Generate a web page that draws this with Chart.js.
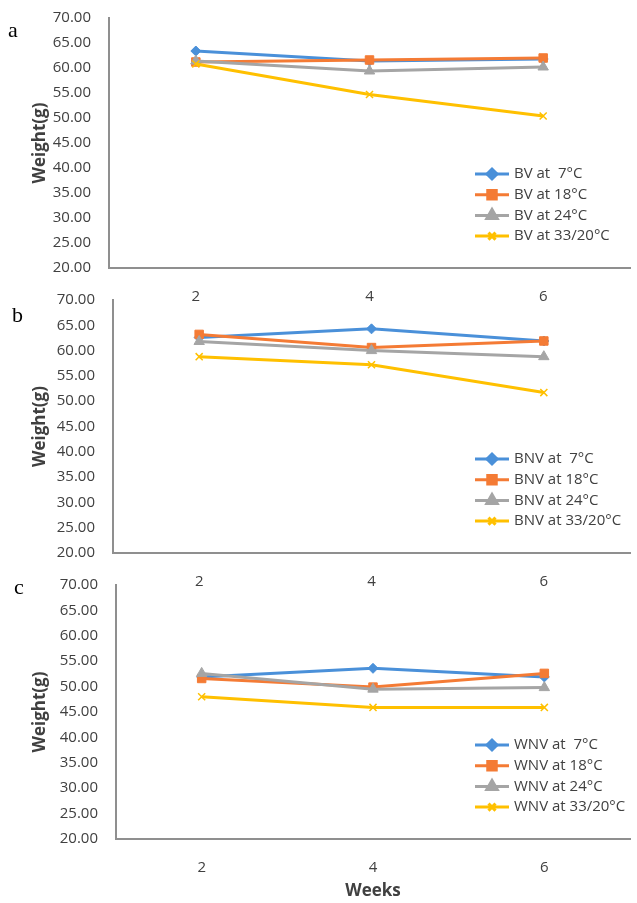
<!DOCTYPE html>
<html>
<head>
<meta charset="utf-8">
<script src="https://cdn.jsdelivr.net/npm/chart.js@4.4.0/dist/chart.umd.min.js"></script>
<style>
  body { margin: 0; background: #fff; }
  #wrap { position: relative; width: 637px; height: 903px; background: #fff; overflow: hidden; }
  canvas { position: absolute; left: 0; }
  .letter { position: absolute; font-family: "Liberation Serif", serif; font-size: 22px; color: #000; }
</style>
</head>
<body>
<div id="wrap">
  <canvas id="chartA" width="637" height="320" style="top:0px"></canvas>
  <canvas id="chartB" width="637" height="320" style="top:280px"></canvas>
  <canvas id="chartC" width="637" height="338" style="top:565px"></canvas>
  <div class="letter" style="left:8px;top:17px">a</div>
  <div class="letter" style="left:12px;top:302px">b</div>
  <div class="letter" style="left:14px;top:574px">c</div>
</div>
<script>
const weeks = ["2", "4", "6"];

// a: BV
const bvLabels = ["BV at  7°C", "BV at 18°C", "BV at 24°C", "BV at 33/20°C"];
const bv7 = [63.4, 61.4, 61.8];
const bv18 = [61.2, 61.6, 62.0];
const bv24 = [61.4, 59.4, 60.2];
const bv33 = [60.8, 54.7, 50.4];

// b: BNV
const bnvLabels = ["BNV at  7°C", "BNV at 18°C", "BNV at 24°C", "BNV at 33/20°C"];
const bnv7 = [62.6, 64.3, 61.9];
const bnv18 = [63.2, 60.6, 61.9];
const bnv24 = [61.8, 60.0, 58.8];
const bnv33 = [58.8, 57.2, 51.7];

// c: WNV
const wnvLabels = ["WNV at  7°C", "WNV at 18°C", "WNV at 24°C", "WNV at 33/20°C"];
const wnv7 = [51.9, 53.6, 51.9];
const wnv18 = [51.6, 49.9, 52.6];
const wnv24 = [52.6, 49.5, 49.8];
const wnv33 = [48.0, 45.9, 45.9];

const yTicks = { min: 20, max: 70, step: 5 };

const colors = ["#4A90D9", "#F47B35", "#A5A5A5", "#FFC000"];
const markers = ["rectRot", "rect", "triangle", "crossRot"];
const markerSize = [5, 6, 6, 5];

const FONT = "'Open Sans', sans-serif";
const TEXT = "#404040";
const AXIS = "#8f8f8f";

function makeDatasets(labels, series) {
  return series.map((data, i) => ({
    label: labels[i],
    data: data,
    borderColor: colors[i],
    backgroundColor: colors[i],
    borderWidth: 3,
    pointStyle: markers[i],
    pointRadius: markerSize[i],
    pointBorderWidth: i == 3 ? 1.5 : 1,
    pointBorderColor: colors[i],
    pointBackgroundColor: colors[i],
    tension: 0,
    fill: false,
    // excel draws later series on top
    order: 4 - i,
  }));
}

// legend drawn inside the plot, bottom right
const insideLegend = {
  id: "insideLegend",
  afterDatasetsDraw(chart) {
    const { ctx, chartArea } = chart;
    const datasets = chart.data.datasets;
    const x0 = chartArea.right - 155;
    const y0 = chartArea.bottom - 94;
    ctx.save();
    ctx.font = "15px " + FONT;
    ctx.textBaseline = "middle";
    ctx.fillStyle = TEXT;
    datasets.forEach((ds, i) => {
      const y = y0 + i * 20.7;
      ctx.strokeStyle = ds.borderColor;
      ctx.lineWidth = 3;
      ctx.beginPath();
      ctx.moveTo(x0, y);
      ctx.lineTo(x0 + 34, y);
      ctx.stroke();
      ctx.fillStyle = ds.borderColor;
      Chart.helpers.drawPoint(ctx, {
        pointStyle: ds.pointStyle,
        radius: ds.pointRadius,
        borderWidth: ds.pointBorderWidth,
        rotation: 0,
      }, x0 + 17, y);
      ctx.fillStyle = TEXT;
      ctx.fillText(ds.label, x0 + 39, y);
    });
    ctx.restore();
  },
};

function initializeChart(id, labels, series, opts) {
  const canvas = document.getElementById(id);
  const ctx = canvas.getContext("2d");
  return new Chart(ctx, {
    type: "line",
    data: { labels: weeks, datasets: makeDatasets(labels, series) },
    options: {
      responsive: false,
      animation: false,
      layout: { padding: { left: 26, top: opts.top, right: opts.right, bottom: 0 } },
      plugins: { legend: { display: false }, tooltip: { enabled: false } },
      scales: {
        x: {
          offset: true,
          grid: { display: false, drawTicks: false },
          border: { display: true, color: AXIS, width: 2 },
          ticks: { color: TEXT, font: { family: FONT, size: 15 }, padding: 20 },
          title: {
            display: !!opts.xTitle,
            text: opts.xTitle || "",
            color: TEXT,
            font: { family: FONT, size: 17, weight: "bold" },
            padding: { top: 2, bottom: 2 },
          },
          afterFit(scale) { scale.height = opts.xHeight; },
        },
        y: {
          min: yTicks.min,
          max: yTicks.max,
          grid: { display: false, drawTicks: false },
          border: { display: true, color: AXIS, width: 2 },
          ticks: {
            stepSize: yTicks.step,
            color: TEXT,
            font: { family: FONT, size: 15 },
            padding: 18,
            callback: (v) => Number(v).toFixed(2),
          },
          title: {
            display: true,
            text: "Weight(g)",
            color: TEXT,
            font: { family: FONT, size: 17, weight: "bold" },
            padding: { top: 4, bottom: 4 },
          },
          afterFit(scale) {
            scale.width = opts.yWidth;
            // tick padding would otherwise push the plot top down
            scale.paddingTop = 9;
            scale.paddingBottom = 9;
          },
        },
      },
    },
    plugins: [insideLegend],
  });
}

initializeChart("chartA", bvLabels, [bv7, bv18, bv24, bv33],
  { top: 18, right: 4, yWidth: 83, xHeight: 52 });
initializeChart("chartB", bnvLabels, [bnv7, bnv18, bnv24, bnv33],
  { top: 20, right: 3, yWidth: 87, xHeight: 47 });
initializeChart("chartC", wnvLabels, [wnv7, wnv18, wnv24, wnv33],
  { top: 20, right: 1, yWidth: 90, xHeight: 64, xTitle: "Weeks" });
</script>
</body>
</html>
